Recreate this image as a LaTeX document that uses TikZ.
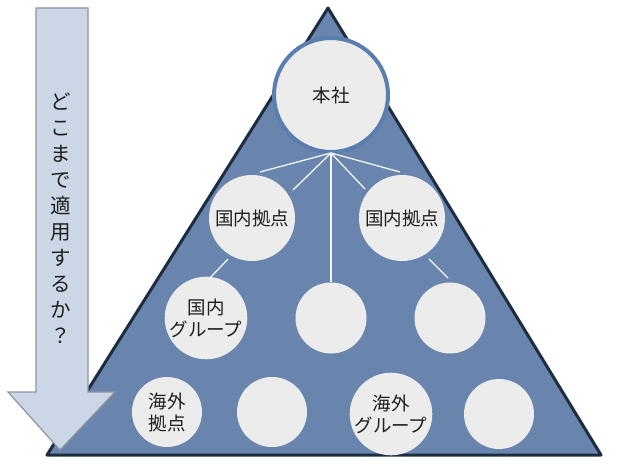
\documentclass[tikz,border=0pt]{standalone}
\usepackage{fontspec}
\setmainfont{Noto Sans CJK JP}
\usepackage{xcolor}
\usetikzlibrary{positioning,calc,arrows.meta}

\definecolor{pyrfill}{HTML}{6985AE}
\definecolor{pyrline}{HTML}{1E2C40}
\definecolor{hqring}{HTML}{5B7EB1}
\definecolor{unitfill}{HTML}{ECECEC}
\definecolor{arrowfill}{HTML}{CBD7E7}
\definecolor{arrowline}{HTML}{8C939C}

\begin{document}
\begin{tikzpicture}[x=1pt, y=-1pt, font=\fontsize{18.5}{22}\selectfont, text=black!88,
  unit/.style = {circle, fill=unitfill, inner sep=0pt, align=center},
  big/.style = {unit, minimum size=86pt},
  small/.style = {unit, minimum size=71pt},
  every edge/.append style={draw=white!92!pyrfill, line width=1.3pt}]

\useasboundingbox (0,0) rectangle (620,465);

% pyramid
\draw[pyrline, fill=pyrfill, line width=3pt, line join=round] (328,8) -- (601,455) -- (47,455) -- cycle;

% arrow on the left
\draw[arrowline, fill=arrowfill, line width=1.2pt] (36,8) -- (88,8) -- (88,392) -- (115,392) -- (60,450) -- (8,392) -- (36,392) -- cycle;
\node[align=center, font=\fontsize{20.5}{26}\selectfont] (q) at (61,218) {ど\\こ\\ま\\で\\適\\用\\す\\る\\か\\？};

\node[unit, minimum size=114pt, draw=hqring, line width=4pt] (hq) at (331,95) {本社};
\coordinate (hub) at (331,153);

\node[big] (d1) at (252,218) {国内拠点};
\node[big] (d2) at (402,218) {国内拠点};

\node[small] (g1) at (206,318) {国内\\グループ};
\node[small] (m) at (331,318) {};
\node[small] (r) at (450,318) {};

\node[small, minimum size=70pt] (o1) at (167,412) {海外\\拠点};
\node[small, minimum size=70pt] (o2) at (272,412) {};
\node[small, minimum size=70pt] (og) at (391,414) {海外\\グループ};
\node[small, minimum size=70pt] (o4) at (499,414) {};

\coordinate (a1) at (260,172);
\coordinate (a2) at (293,190);
\coordinate (a4) at (365,189);
\coordinate (a5) at (400,172);
\coordinate (b1) at (228,259);
\coordinate (c1) at (208,280);
\coordinate (b2) at (429,259);
\coordinate (c2) at (448,278);

\path
    (hub) edge (a1)
    (hub) edge (a2)
    (hub) edge (m.north)
    (hub) edge (a4)
    (hub) edge (a5)
    (b1) edge (c1)
    (b2) edge (c2);
\end{tikzpicture}
\end{document}
